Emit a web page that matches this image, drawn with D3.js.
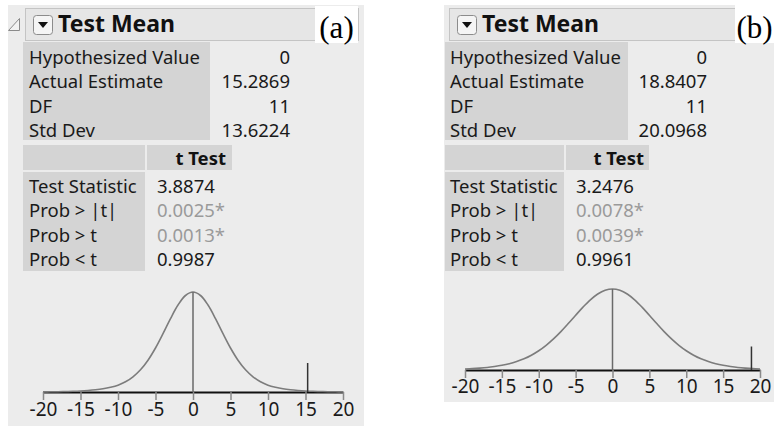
<!DOCTYPE html>
<html>
<head>
<meta charset="utf-8">
<script src="https://cdn.jsdelivr.net/npm/d3@7"></script>
<style>
  html, body { margin: 0; padding: 0; background: #fff; }
  svg { display: block; font-family: "Noto Sans", "Open Sans", sans-serif; }
</style>
</head>
<body>
<svg id="chart" width="774" height="444"></svg>
<script>
const panelTags = ["(a)", "(b)"];
const titleText = "Test Mean";
const statLabels = ["Hypothesized Value", "Actual Estimate", "DF", "Std Dev"];
const statValuesA = ["0", "15.2869", "11", "13.6224"];
const statValuesB = ["0", "18.8407", "11", "20.0968"];
const testHeader = "t Test";
const testLabels = ["Test Statistic", "Prob > |t|", "Prob > t", "Prob < t"];
const testValuesA = ["3.8874", "0.0025*", "0.0013*", "0.9987"];
const testValuesB = ["3.2476", "0.0078*", "0.0039*", "0.9961"];
const testSignificant = [false, true, true, false];
const estimateA = 15.2869;
const estimateB = 18.8407;
const axisTicks = [-20, -15, -10, -5, 0, 5, 10, 15, 20];

// curve heights (fraction of peak) read at x = -20 .. 20
const curveX = [-20, -19, -18, -17, -16, -15, -14, -13, -12, -11, -10, -9, -8, -7, -6, -5, -4, -3, -2, -1, 0,
  1, 2, 3, 4, 5, 6, 7, 8, 9, 10, 11, 12, 13, 14, 15, 16, 17, 18, 19, 20];
const curveA = [0.001, 0.002, 0.003, 0.005, 0.007, 0.01, 0.015, 0.022, 0.032, 0.047, 0.068, 0.102, 0.152, 0.222, 0.318, 0.44, 0.583, 0.734, 0.87, 0.965, 1,
  0.965, 0.87, 0.734, 0.583, 0.44, 0.318, 0.222, 0.152, 0.102, 0.068, 0.047, 0.032, 0.022, 0.015, 0.01, 0.007, 0.005, 0.003, 0.002, 0.001];
const curveB = [0.013, 0.017, 0.023, 0.031, 0.043, 0.058, 0.078, 0.105, 0.139, 0.183, 0.238, 0.305, 0.384, 0.474, 0.573, 0.676, 0.776, 0.866, 0.938, 0.984, 1,
  0.984, 0.938, 0.866, 0.776, 0.676, 0.573, 0.474, 0.384, 0.305, 0.238, 0.183, 0.139, 0.105, 0.078, 0.058, 0.043, 0.031, 0.023, 0.017, 0.013];
const markerHeight = 0.29;

// ---- layout of each report panel (pixels) ----
const panels = [
  {
    tag: panelTags[0], stats: statValuesA, tests: testValuesA, curve: curveA, estimate: estimateA, tri: true,
    left: 8, right: 364, top: 5, bottom: 426,
    headL: 25, headR: 358, tagL: 315, tagR: 358, tagT: 6, tagB: 43,
    tabL: 23, tab1R: 210, tab1T: 42, tab1B: 140, labX: 29, val1X: 290, row1Y: 64,
    split: 145, t2R: 232, t2HT: 145, t2HB: 170, t2BT: 172, t2BB: 271, t2ValX: 157, tTestX: 226, row2Y: 193, step: 24.3,
    axL: 43, axR: 343, axY: 392, peakY: 292, pad: 3
  },
  {
    tag: panelTags[1], stats: statValuesB, tests: testValuesB, curve: curveB, estimate: estimateB, tri: false,
    left: 444, right: 774, top: 5, bottom: 402,
    headL: 449, headR: 772, tagL: 735, tagR: 774, tagT: 0, tagB: 43,
    tabL: 445, tab1R: 628, tab1T: 42, tab1B: 140, labX: 450, val1X: 707, row1Y: 64,
    split: 564, t2R: 649, t2HT: 145, t2HB: 170, t2BT: 172, t2BB: 271, t2ValX: 576, tTestX: 644, row2Y: 193, step: 24.3,
    axL: 465, axR: 760, axY: 370, peakY: 289, pad: 2
  }
];

const svg = d3.select("#chart");
const BG = "#ececec", CELL = "#d4d4d4", INK = "#1a1a1a";

panels.forEach(p => {
  const g = svg.append("g");

  g.append("rect").attr("x", p.left).attr("y", p.top)
    .attr("width", p.right - p.left).attr("height", p.bottom - p.top).attr("fill", BG);

  // disclosure triangle
  if (p.tri) {
    g.append("path").attr("d", "M8.5,30.5 L19.5,30.5 L19.5,18.5 Z")
      .attr("fill", "#f2f2f2").attr("stroke", "#8a8a8a").attr("stroke-width", 1);
  }

  // outline header box
  g.append("rect").attr("x", p.headL + 0.5).attr("y", 8.5)
    .attr("width", p.headR - p.headL).attr("height", 32)
    .attr("fill", "#e6e6e6").attr("stroke", "#c4c4c4");

  const bx = p.headL + 8;
  g.append("rect").attr("x", bx + 0.5).attr("y", 15.5).attr("width", 19).attr("height", 19).attr("rx", 3)
    .attr("fill", "#f5f5f5").attr("stroke", "#8c8c8c");
  g.append("path").attr("d", `M${bx + 5},${22} L${bx + 15},${22} L${bx + 10},${28} Z`).attr("fill", "#111");

  g.append("text").attr("x", p.headL + 33).attr("y", 32)
    .attr("font-size", 23).attr("font-weight", 700).attr("fill", "#111").text(titleText);

  // panel tag
  g.append("rect").attr("x", p.tagL).attr("y", p.tagT)
    .attr("width", p.tagR - p.tagL).attr("height", p.tagB - p.tagT).attr("fill", "#fff");
  g.append("text").attr("x", (p.tagL + p.tagR) / 2).attr("y", 38).attr("text-anchor", "middle")
    .attr("font-family", "'Liberation Serif', 'Times New Roman', serif").attr("font-size", 31)
    .attr("fill", "#000").text(p.tag);

  // first table
  g.append("rect").attr("x", p.tabL).attr("y", p.tab1T)
    .attr("width", p.tab1R - p.tabL).attr("height", p.tab1B - p.tab1T).attr("fill", CELL);
  g.selectAll(".lab1").data(statLabels).join("text")
    .attr("x", p.labX).attr("y", (d, i) => p.row1Y + i * p.step)
    .attr("font-size", 18.5).attr("fill", INK).text(d => d);
  g.selectAll(".val1").data(p.stats).join("text")
    .attr("x", p.val1X).attr("y", (d, i) => p.row1Y + i * p.step).attr("text-anchor", "end")
    .attr("font-size", 18.5).attr("fill", INK).text(d => d);

  // t test table
  g.append("rect").attr("x", p.tabL).attr("y", p.t2HT)
    .attr("width", p.split - p.tabL).attr("height", p.t2HB - p.t2HT).attr("fill", CELL);
  g.append("rect").attr("x", p.split + 2).attr("y", p.t2HT)
    .attr("width", p.t2R - p.split - 2).attr("height", p.t2HB - p.t2HT).attr("fill", CELL);
  g.append("text").attr("x", p.tTestX).attr("y", p.t2HB - 5).attr("text-anchor", "end")
    .attr("font-size", 18.5).attr("font-weight", 700).attr("fill", "#111").text(testHeader);
  g.append("rect").attr("x", p.tabL).attr("y", p.t2BT)
    .attr("width", p.split - p.tabL).attr("height", p.t2BB - p.t2BT).attr("fill", CELL);
  g.selectAll(".lab2").data(testLabels).join("text")
    .attr("x", p.labX).attr("y", (d, i) => p.row2Y + i * p.step)
    .attr("font-size", 18.5).attr("fill", INK).text(d => d);
  g.selectAll(".val2").data(p.tests).join("text")
    .attr("x", p.t2ValX).attr("y", (d, i) => p.row2Y + i * p.step)
    .attr("font-size", 18.5).attr("fill", (d, i) => testSignificant[i] ? "#9a9a9a" : INK).text(d => d);

  // distribution plot
  const x = d3.scaleLinear().domain([-20, 20]).range([p.axL, p.axR]);
  const y = d3.scaleLinear().domain([0, 1]).range([p.axY, p.peakY]);

  const axis = d3.axisBottom(x).tickValues(axisTicks).tickSize(8).tickSizeOuter(0)
    .tickPadding(p.pad).tickFormat(d => String(d));
  const ax = g.append("g").attr("transform", `translate(0,${p.axY})`).call(axis);
  ax.select(".domain").attr("stroke", "#111").attr("stroke-width", 2);
  ax.selectAll(".tick line").attr("stroke", "#8a8a8a").attr("stroke-width", 1.5);
  ax.selectAll(".tick text").attr("font-family", "'Noto Sans', sans-serif")
    .attr("font-size", 19).attr("fill", INK);

  const line = d3.line().x((d, i) => x(curveX[i])).y(d => y(d)).curve(d3.curveCatmullRom);
  g.append("path").datum(p.curve).attr("d", line)
    .attr("fill", "none").attr("stroke", "#7c7c7c").attr("stroke-width", 1.6);

  g.append("line").attr("x1", x(0)).attr("x2", x(0)).attr("y1", y(0)).attr("y2", y(1))
    .attr("stroke", "#6a6a6a").attr("stroke-width", 1.5);
  g.append("line").attr("x1", x(p.estimate)).attr("x2", x(p.estimate))
    .attr("y1", y(0)).attr("y2", y(markerHeight))
    .attr("stroke", "#333").attr("stroke-width", 1.5);
});
</script>
</body>
</html>
